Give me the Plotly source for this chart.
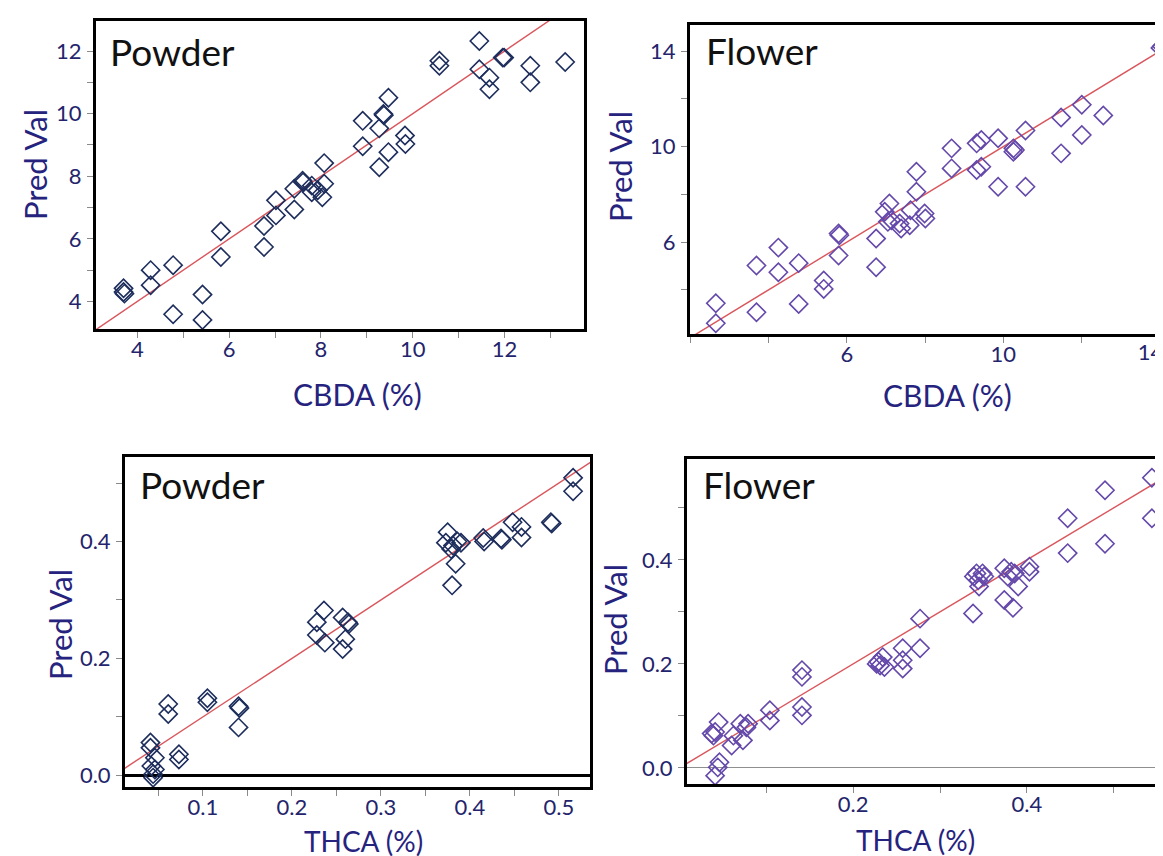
import plotly.graph_objects as go

W, H = 1163, 856

# ---------------- data ----------------
powder_cbda_x = [3.70, 3.70, 3.72, 4.29, 4.29, 4.78, 4.78, 5.42, 5.42, 5.82, 5.82, 6.76, 6.76, 7.02, 7.02,
                 7.42, 7.42, 7.60, 7.61, 7.80, 7.80, 7.93, 8.07, 8.07, 8.03, 8.91, 8.91, 9.27, 9.27, 9.36,
                 9.37, 9.47, 9.47, 9.83, 9.84, 10.58, 10.58, 11.45, 11.45, 11.67, 11.67, 11.96, 11.99,
                 12.56, 12.56, 13.32]
powder_cbda_y = [4.42, 4.30, 4.25, 5.00, 4.52, 5.16, 3.59, 4.22, 3.41, 6.24, 5.42, 5.74, 6.41, 7.23, 6.75,
                 7.60, 6.94, 7.86, 7.81, 7.70, 7.49, 7.55, 8.42, 7.76, 7.33, 9.77, 8.96, 8.29, 9.53, 9.99,
                 9.95, 10.51, 8.77, 9.30, 9.03, 11.69, 11.53, 12.32, 11.42, 11.15, 10.78, 11.79, 11.79,
                 11.53, 11.00, 11.65]

flower_cbda_x = [2.65, 2.65, 3.69, 3.69, 4.25, 4.25, 4.77, 4.77, 5.41, 5.41, 5.79, 5.81, 5.79, 6.75, 6.75,
                 6.97, 7.09, 7.05, 7.14, 7.35, 7.39, 7.61, 7.78, 7.78, 7.63, 7.99, 8.01, 8.68, 8.68, 9.32,
                 9.44, 9.32, 9.44, 9.87, 9.87, 10.26, 10.26, 10.30, 10.57, 10.57, 11.48, 11.48, 12.01,
                 12.01, 12.56, 14.06, 14.02]
flower_cbda_y = [3.44, 2.60, 5.02, 3.06, 5.77, 4.74, 5.12, 3.41, 4.39, 4.04, 6.36, 6.29, 5.44, 6.15, 4.95,
                 7.27, 7.62, 6.85, 6.92, 6.78, 6.57, 6.71, 8.95, 8.11, 7.34, 7.20, 6.99, 9.93, 9.09, 10.14,
                 10.28, 9.02, 9.16, 10.35, 8.32, 9.93, 9.79, 9.86, 10.68, 8.32, 11.22, 9.72, 11.76,
                 10.49, 11.31, 14.21, 14.14]

powder_thca_x = [0.041, 0.041, 0.046, 0.042, 0.046, 0.044, 0.044, 0.061, 0.061, 0.073, 0.073, 0.105, 0.105,
                 0.140, 0.141, 0.140, 0.236, 0.228, 0.228, 0.237, 0.257, 0.263, 0.264, 0.260, 0.257,
                 0.375, 0.373, 0.381, 0.386, 0.390, 0.384, 0.380, 0.379, 0.415, 0.416, 0.435, 0.436,
                 0.448, 0.458, 0.458, 0.491, 0.492, 0.516, 0.516]
powder_thca_y = [0.056, 0.047, 0.030, 0.016, 0.010, 0.002, -0.004, 0.122, 0.105, 0.036, 0.027, 0.132, 0.125,
                 0.118, 0.115, 0.082, 0.282, 0.262, 0.240, 0.227, 0.270, 0.262, 0.259, 0.233, 0.216,
                 0.416, 0.398, 0.393, 0.400, 0.398, 0.362, 0.325, 0.387, 0.406, 0.400, 0.405, 0.403,
                 0.433, 0.425, 0.407, 0.433, 0.431, 0.509, 0.486]

flower_thca_x = [0.041, 0.044, 0.046, 0.037, 0.041, 0.045, 0.039, 0.060, 0.062, 0.073, 0.070, 0.079, 0.077,
                 0.104, 0.104, 0.141, 0.141, 0.141, 0.141, 0.229, 0.231, 0.234, 0.236, 0.227, 0.257,
                 0.257, 0.257, 0.277, 0.277, 0.338, 0.339, 0.344, 0.349, 0.345, 0.351, 0.342, 0.374,
                 0.382, 0.378, 0.386, 0.390, 0.374, 0.384, 0.403, 0.403, 0.447, 0.447, 0.490, 0.490,
                 0.544, 0.544]
flower_thca_y = [-0.015, 0.001, 0.011, 0.066, 0.069, 0.088, 0.062, 0.043, 0.062, 0.053, 0.085, 0.085, 0.078,
                 0.111, 0.091, 0.188, 0.175, 0.117, 0.101, 0.204, 0.197, 0.213, 0.194, 0.200, 0.230,
                 0.207, 0.191, 0.287, 0.230, 0.297, 0.368, 0.361, 0.374, 0.349, 0.368, 0.374, 0.384,
                 0.377, 0.368, 0.374, 0.349, 0.323, 0.308, 0.387, 0.377, 0.480, 0.413, 0.534, 0.431,
                 0.558, 0.480]

panel_labels = ["Powder", "Flower", "Powder", "Flower"]
x_titles = ["CBDA (%)", "CBDA (%)", "THCA (%)", "THCA (%)"]
y_title = "Pred Val"

# tick values / labels per panel
x_tickvals = [[4, 6, 8, 10, 12], [6, 10], [0.1, 0.2, 0.3, 0.4, 0.5], [0.2, 0.4]]
x_ticktext = [["4", "6", "8", "10", "12"], ["6", "10"],
              ["0.1", "0.2", "0.3", "0.4", "0.5"], ["0.2", "0.4"]]
edge_tickval = [14]          # last CBDA tick of the Flower panel (label sits at the page edge)
edge_ticktext = ["14"]
y_tickvals = [[4, 6, 8, 10, 12], [6, 10, 14], [0.0, 0.2, 0.4], [0.0, 0.2, 0.4]]
y_ticktext = [["4", "6", "8", "10", "12"], ["6", "10", "14"], ["0.0", "0.2", "0.4"], ["0.0", "0.2", "0.4"]]
x_minor = [1, 2, 0.05, 0.1]
y_minor = [1, 2, 0.1, 0.1]

# ---------------- styles ----------------
FONT = "Lato"
POWDER_COLOR = "#1d2d5c"
FLOWER_COLOR = "#6448aa"
LINE_COLOR = "#d9565c"
TICK_FONT_COLOR = "#24246c"
TITLE_COLOR = "#26237e"
TICK_COLOR = "#8a8a8a"
X_STANDOFF = -7

# pixel boxes: (left, right, top, bottom)
boxes = [(88, 576, 13, 321), (682, 1161, 17, 326), (117, 582, 449, 779), (679, 1161, 451, 776)]
xranges = [[3.10, 13.73], [1.99, 14.24], [0.0124, 0.535], [0.0086, 0.5637]]
yranges = [[3.12, 12.96], [2.15, 15.10], [-0.020, 0.5446], [-0.031, 0.594]]

datasets = [(powder_cbda_x, powder_cbda_y, POWDER_COLOR),
            (flower_cbda_x, flower_cbda_y, FLOWER_COLOR),
            (powder_thca_x, powder_thca_y, POWDER_COLOR),
            (flower_thca_x, flower_thca_y, FLOWER_COLOR)]

fig = go.Figure()
layout = dict(width=W, height=H, margin=dict(l=0, r=0, t=0, b=0), autosize=False,
              paper_bgcolor="white", plot_bgcolor="white", showlegend=False,
              font=dict(family=FONT, color=TICK_FONT_COLOR))
annotations = []
tickfont = dict(family=FONT, size=22, color=TICK_FONT_COLOR)

for i, ((xs, ys, col), (l, r, t, b)) in enumerate(zip(datasets, boxes)):
    n = "" if i == 0 else str(i + 1)
    xa, ya = "x" + n, "y" + n
    # identity line across the axis range
    lo = min(xranges[i][0], yranges[i][0])
    hi = max(xranges[i][1], yranges[i][1])
    fig.add_trace(go.Scatter(x=[lo, hi], y=[lo, hi], mode="lines",
                             line=dict(color=LINE_COLOR, width=1.4),
                             xaxis=xa, yaxis=ya, hoverinfo="skip"))
    fig.add_trace(go.Scatter(x=xs, y=ys, mode="markers",
                             marker=dict(symbol="diamond-open", size=14, color=col,
                                         line=dict(width=1.6, color=col)),
                             xaxis=xa, yaxis=ya, cliponaxis=False))
    common = dict(showline=True, mirror=True, linecolor="black", linewidth=3,
                  showgrid=False, ticks="outside", ticklen=6, tickwidth=1, tickcolor=TICK_COLOR,
                  tickfont=tickfont)
    layout["xaxis" + n] = dict(common, domain=[l / W, r / W], range=xranges[i], anchor=ya,
                               tickmode="array", tickvals=x_tickvals[i], ticktext=x_ticktext[i],
                               zeroline=False, ticklabelstandoff=X_STANDOFF,
                               minor=dict(ticks="outside", ticklen=6, tickcolor=TICK_COLOR,
                                          dtick=x_minor[i], tick0=0))
    zl = dict(zeroline=False)
    if i == 2:
        zl = dict(zeroline=True, zerolinecolor="black", zerolinewidth=3)
    elif i == 3:
        zl = dict(zeroline=True, zerolinecolor="#8f8f8f", zerolinewidth=1)
    layout["yaxis" + n] = dict(common, domain=[1 - b / H, 1 - t / H], range=yranges[i], anchor=xa,
                               tickmode="array", tickvals=y_tickvals[i], ticktext=y_ticktext[i],
                               ticklabelstandoff=1,
                               minor=dict(ticks="outside", ticklen=6, tickcolor=TICK_COLOR,
                                          dtick=y_minor[i], tick0=0), **zl)

# extra overlaid x-axis on the Flower/CBDA panel carrying only the edge "14" label,
# nudged left so it stays inside the page like in the reference
l2, r2 = boxes[1][0], boxes[1][1]
fig.add_trace(go.Scatter(x=[], y=[], xaxis="x5", yaxis="y2", hoverinfo="skip"))
layout["xaxis5"] = dict(overlaying="x2", anchor="y2", domain=[l2 / W, r2 / W], range=xranges[1],
                        showline=False, showgrid=False, zeroline=False,
                        ticks="outside", ticklen=6, tickwidth=1, tickcolor=TICK_COLOR,
                        tickmode="array", tickvals=edge_tickval, ticktext=edge_ticktext,
                        tickfont=tickfont, ticklabelstandoff=X_STANDOFF, ticklabelshift=-9,
                        ticklabeloverflow="allow")

# panel labels (pixel positions of left edge / cap centre)
label_pos = [(100, 44), (696, 43), (130, 477), (693, 477)]
for (px, py), txt in zip(label_pos, panel_labels):
    annotations.append(dict(text=txt, x=px / W, y=1 - py / H, xref="paper", yref="paper",
                            xanchor="left", yanchor="middle", showarrow=False,
                            font=dict(family=FONT, size=37, color="#111111")))

# axis titles
xt_pos = [(349, 386), (940, 387), (355, 833), (907, 832)]
xt_size = [30, 30, 28, 28]
yt_pos = [(27, 157), (612, 159), (52, 617), (607, 612)]
for (px, py), txt, fs in zip(xt_pos, x_titles, xt_size):
    annotations.append(dict(text=txt, x=px / W, y=1 - py / H, xref="paper", yref="paper",
                            xanchor="center", yanchor="middle", showarrow=False,
                            font=dict(family=FONT, size=fs, color=TITLE_COLOR)))
for (px, py) in yt_pos:
    annotations.append(dict(text=y_title, x=px / W, y=1 - py / H, xref="paper", yref="paper",
                            xanchor="center", yanchor="middle", showarrow=False, textangle=-90,
                            font=dict(family=FONT, size=31, color=TITLE_COLOR)))

layout["annotations"] = annotations
fig.update_layout(**layout)
fig.write_html("out.html")
